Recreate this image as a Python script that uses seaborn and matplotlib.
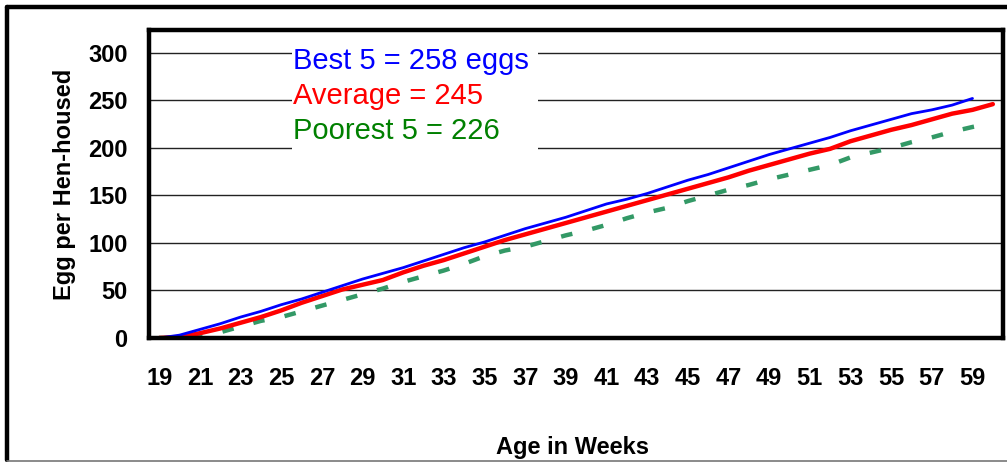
import numpy as np
import pandas as pd
import matplotlib
matplotlib.use("Agg")
import matplotlib.pyplot as plt
import seaborn as sns
from matplotlib.lines import Line2D
from matplotlib.patches import Rectangle
from matplotlib.ticker import MultipleLocator, FixedLocator

# 데이터
weeks = list(range(19, 61))
best5 = [0, 3, 9, 15, 22, 28, 35, 41, 48, 55, 62, 68, 74, 81, 88, 95, 101, 108,
         115, 121, 127, 134, 141, 146, 152, 159, 166, 172, 179, 186, 193, 199,
         205, 211, 218, 224, 230, 236, 240, 245, 252]
average = [0, 1, 5, 10, 16, 22, 29, 37, 44, 51, 56, 61, 69, 76, 82, 89, 96, 103,
           109, 115, 121, 127, 133, 139, 145, 151, 157, 163, 169, 176, 182, 188,
           194, 199, 207, 213, 219, 224, 230, 236, 240, 246]
poorest5 = [0, 0, 1, 6, 12, 18, 22, 28, 34, 40, 46, 52, 59, 65, 71, 78, 86, 92,
            96, 102, 108, 113, 119, 126, 132, 137, 144, 150, 156, 161, 167, 172,
            177, 182, 190, 195, 200, 206, 211, 217, 222, 226]
labels = ['Best 5 = 258 eggs', 'Average = 245', 'Poorest 5 = 226']
colors = ['#0000FF', '#FF0000', '#339966']

df_best = pd.DataFrame({'week': weeks[:len(best5)], 'eggs': best5})
df_avg = pd.DataFrame({'week': weeks, 'eggs': average})
df_poor = pd.DataFrame({'week': weeks, 'eggs': poorest5})

sns.set_style('white')
plt.rcParams['font.family'] = ['Liberation Sans', 'DejaVu Sans']
plt.rcParams['text.color'] = 'black'
plt.rcParams['axes.labelcolor'] = 'black'
plt.rcParams['xtick.color'] = 'black'
plt.rcParams['ytick.color'] = 'black'

fig = plt.figure(figsize=(10.07, 4.62), dpi=100)
W, H = 1007, 462
ax = fig.add_axes([149 / W, (H - 338) / H, 854 / W, 308 / H])

# 선 그리기
sns.lineplot(data=df_best, x='week', y='eggs', ax=ax, color=colors[0],
             linewidth=2.0, zorder=4)
sns.lineplot(data=df_avg, x='week', y='eggs', ax=ax, color=colors[1],
             linewidth=3.2, zorder=3)
sns.lineplot(data=df_poor, x='week', y='eggs', ax=ax, color=colors[2],
             linewidth=3.2, dashes=(2.6, 4.6), zorder=2)

# 축
ax.set_xlim(18.5, 60.5)
ax.set_ylim(0, 324)
ax.xaxis.set_major_locator(FixedLocator(list(range(19, 60, 2))))
ax.xaxis.set_minor_locator(FixedLocator(list(np.arange(18.5, 61, 1.0))))
ax.yaxis.set_major_locator(MultipleLocator(50))
ax.yaxis.set_minor_locator(MultipleLocator(10))
ax.tick_params(axis='x', which='major', length=0, pad=21, labelsize=17,
               labelcolor='black')
ax.tick_params(axis='x', which='minor', length=7, width=1.2, direction='out',
               color='#333333')
ax.tick_params(axis='y', which='major', length=15, width=2.2, direction='inout',
               pad=8, labelsize=17, color='black', labelcolor='black')
ax.tick_params(axis='y', which='minor', length=10, width=2.2, direction='inout',
               color='black')
for lab in ax.get_xticklabels() + ax.get_yticklabels():
    lab.set_fontweight('bold')

ax.grid(True, axis='y', which='major', color='#222222', linewidth=1.0)
ax.set_axisbelow(True)
for s in ax.spines.values():
    s.set_linewidth(3.2)
    s.set_color('black')
    s.set_zorder(6)

ax.set_xlabel('Age in Weeks', fontsize=17, fontweight='bold', color='black')
ax.set_ylabel('Egg per Hen-housed', fontsize=17, fontweight='bold', color='black')
ax.xaxis.set_label_coords((573 - 149) / 854, -(436 - 338) / 308)
ax.yaxis.set_label_coords(-(149 - 76) / 854, 0.5)

# 범례 텍스트 박스
ax.add_patch(Rectangle((0.1675, 0.610), 0.288, 0.364, transform=ax.transAxes,
                       facecolor='white', edgecolor='none', zorder=1.5))
for i, (lab, c) in enumerate(zip(labels, colors)):
    col = '#008000' if i == 2 else c
    ax.text(0.1685, 0.872 - i * 0.113, lab, transform=ax.transAxes,
            fontsize=21, color=col, ha='left', va='baseline', zorder=5)

# 바깥 테두리
fig.add_artist(Line2D([7 / W, 7 / W], [1 - 7 / H, 1 - 460 / H], color='black',
                      linewidth=3.2, transform=fig.transFigure))
fig.add_artist(Line2D([7 / W, 1.0], [1 - 7 / H, 1 - 7 / H], color='black',
                      linewidth=3.2, transform=fig.transFigure))
fig.add_artist(Line2D([7 / W, 1.0], [1 - 460.5 / H, 1 - 460.5 / H],
                      color='#777777', linewidth=1.2, transform=fig.transFigure))

plt.savefig('out.png', dpi=100)
